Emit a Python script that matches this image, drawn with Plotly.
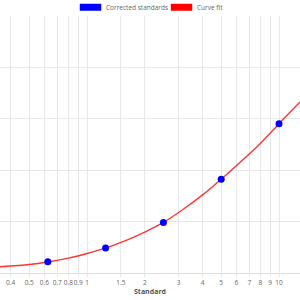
import plotly.graph_objects as go

# Corrected standards
std_x = [0.625, 1.25, 2.5, 5, 10]
std_y = [0.219, 0.485, 0.983, 1.825, 2.905]

# Curve fit
fit_x = [0.35, 0.5, 0.625, 0.8, 1.0, 1.25, 1.6, 2.0, 2.5, 3.2, 4.0, 5.0, 6.3, 8.0, 10.0, 12.9]
fit_y = [0.12, 0.165, 0.215, 0.29, 0.38, 0.485, 0.635, 0.795, 0.983, 1.25, 1.52, 1.825, 2.16, 2.52, 2.905, 3.33]

tick_vals = [0.4, 0.5, 0.6, 0.7, 0.8, 0.9, 1, 1.5, 2, 3, 4, 5, 6, 7, 8, 9, 10]
tick_text = ["0.4", "0.5", "0.6", "0.7", "0.8", "0.9", "1", "1.5", "2", "3", "4", "5", "6", "7", "8", "9", "10"]

legend_labels = ["Corrected standards", "Curve fit"]
legend_colors = ["blue", "red"]

FONT = "Open Sans"

fig = go.Figure()
fig.add_trace(go.Scatter(x=fit_x, y=fit_y, mode="lines",
                         line=dict(color="rgba(255,30,30,0.9)", width=1.4, shape="spline", smoothing=0.8),
                         name=legend_labels[1], hoverinfo="skip"))
fig.add_trace(go.Scatter(x=std_x, y=std_y, mode="markers", marker=dict(color="blue", size=7),
                         name=legend_labels[0]))

fig.update_layout(
    width=300, height=300,
    margin=dict(l=0, r=0, t=16, b=27),
    paper_bgcolor="white", plot_bgcolor="white",
    showlegend=False,
    font=dict(family=FONT, color="#666", size=7),
)
fig.update_xaxes(
    type="log", range=[-0.4531, 1.1094],
    tickvals=tick_vals, ticktext=tick_text, tickangle=0,
    showgrid=True, gridcolor="#e8e8e8", gridwidth=1,
    ticks="outside", ticklen=3, tickcolor="#e8e8e8",
    tickfont=dict(size=6.5, color="#666", family=FONT),
    showline=True, linecolor="#e0e0e0", linewidth=1,
    zeroline=False,
    title=dict(text="<b>Standard</b>", font=dict(size=7, color="#555", family=FONT), standoff=1),
    automargin=False,
)
fig.update_yaxes(
    range=[0, 5], dtick=1,
    showgrid=True, gridcolor="#e8e8e8", gridwidth=1,
    showticklabels=False, zeroline=False, showline=False,
    automargin=False,
)

# Legend drawn as boxes + text at the top
box_specs = [(80, 101, 104), (171, 192, 195)]
for (x0, x1, tx), lab, col in zip(box_specs, legend_labels, legend_colors):
    fig.add_shape(type="rect", xref="paper", yref="paper",
                  x0=x0 / 300, x1=x1 / 300,
                  y0=(300 - 27 - 10.5) / 257, y1=(300 - 27 - 4) / 257,
                  fillcolor=col, line=dict(color=col, width=0.5))
    fig.add_annotation(x=tx / 300, y=(300 - 27 - 7.3) / 257, xref="paper", yref="paper",
                       text=lab, showarrow=False, xanchor="left", yanchor="middle",
                       font=dict(size=6.5, color="#666", family=FONT))

fig.write_html("out.html")
